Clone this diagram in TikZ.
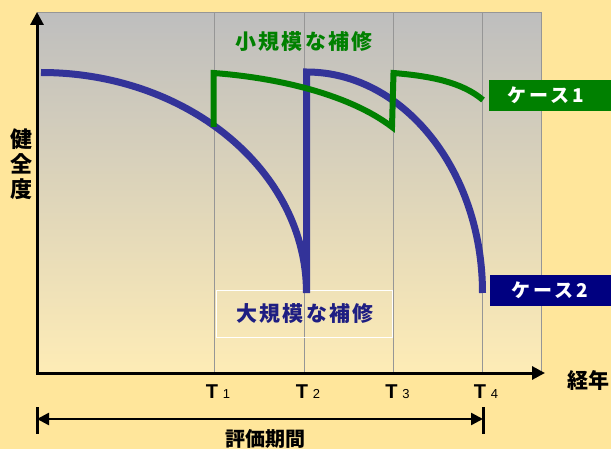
\documentclass[tikz,border=0pt]{standalone}
\usepackage{fontspec}
\setmainfont{Noto Sans CJK JP}
\newfontfamily\lat{Liberation Sans}
\usetikzlibrary{arrows.meta}
\definecolor{bgout}{RGB}{255,230,155}
\definecolor{paneltop}{RGB}{190,190,190}
\definecolor{panelbot}{RGB}{254,236,182}
\definecolor{gridc}{RGB}{150,150,150}
\definecolor{cgreen}{RGB}{0,128,0}
\definecolor{cblue}{RGB}{51,51,153}
\definecolor{cnavy}{RGB}{0,0,128}
\definecolor{tnavy}{RGB}{30,30,130}
\tikzset{
  gridline/.style={gridc, line width=1pt},
  axisline/.style={black, line width=3pt, -{Triangle[length=13pt,width=13pt]}},
  bluecurve/.style={cblue, line width=7pt, line join=miter},
  greencurve/.style={cgreen, line width=6pt, line join=miter},
  tlabel/.style={inner sep=0pt, font=\lat\fontsize{20}{20}\selectfont\bfseries},
  jplabel/.style={inner sep=0pt, font=\fontsize{21}{21}\selectfont\bfseries\addfontfeature{LetterSpace=10}},
  casebox/.style={inner sep=0pt, text=white, font=\fontsize{19}{19}\selectfont\bfseries\addfontfeature{LetterSpace=16}},
}
\newcommand{\tsub}[1]{T\hspace{5pt}{\mdseries\fontsize{13}{13}\selectfont #1}}
\begin{document}
\begin{tikzpicture}[x=1pt,y=-1pt]
\useasboundingbox (0,0) rectangle (611,449);
\fill[bgout] (0,0) rectangle (611,449);
% panel
\shade[top color=paneltop,bottom color=panelbot] (37,13) rectangle (541.7,373);
\draw[gridline] (37,13) -- (541.7,13) -- (541.7,373);
\foreach \x in {214.7,304.4,393.2,482.5} \draw[gridline] (\x,13) -- (\x,373);
% large repair box
\draw[white, line width=1pt] (216,291) rectangle (392,338);
\node[jplabel, text=tnavy] (large) at (305,314) {大規模な補修};
\node[jplabel, text=cgreen] (small) at (304,42) {小規模な補修};
% curves
\draw[bluecurve] (41,72.5) .. controls (187.4,72.5) and (306.5,170.9) .. (306.5,293)
  -- (306.5,72) .. controls (403.7,72) and (482.5,170.9) .. (482.5,293);
\draw[greencurve] (213.5,127) -- (213.5,73) .. controls (280,78) and (350,95) .. (392,127)
  -- (393.5,73) .. controls (430,76) and (462,82) .. (483,100);
% case boxes
\fill[cgreen] (489,80) rectangle (611,111);
\node[casebox] (case1) at (546,95.5) {ケース1};
\fill[cnavy] (490,275) rectangle (611,306);
\node[casebox] (case2) at (550,290.5) {ケース2};
% axes
\coordinate (origin) at (37,373);
\coordinate (xend) at (545,373);
\coordinate (yend) at (37,12);
\draw[axisline] (35.5,373) -- (xend);
\draw[axisline] (37,374.5) -- (yend);
% T labels
\node[tlabel] (t1) at (218,391.5) {\tsub{1}};
\node[tlabel] (t2) at (308,391.5) {\tsub{2}};
\node[tlabel] (t3) at (397.5,391.5) {\tsub{3}};
\node[tlabel] (t4) at (486,391.5) {\tsub{4}};
% axis labels
\node[inner sep=0pt, font=\fontsize{21}{21}\selectfont\bfseries] (years) at (588,380) {経年};
\node[inner sep=0pt, align=center, font=\fontsize{22}{25}\selectfont\bfseries] (health) at (21.5,164.5) {健\\全\\度};
% evaluation period
\coordinate (pl) at (37,419);
\coordinate (pr) at (483,419);
\draw[black, line width=3pt] (37,407) -- (37,434);
\draw[black, line width=3pt] (483,407) -- (483,434);
\draw[black, line width=2.5pt, {Triangle[length=12pt,width=12pt]}-{Triangle[length=12pt,width=12pt]}] (pl) -- (pr);
\node[inner sep=0pt, font=\fontsize{20}{20}\selectfont\bfseries] (period) at (265,438.5) {評価期間};
\end{tikzpicture}
\end{document}
